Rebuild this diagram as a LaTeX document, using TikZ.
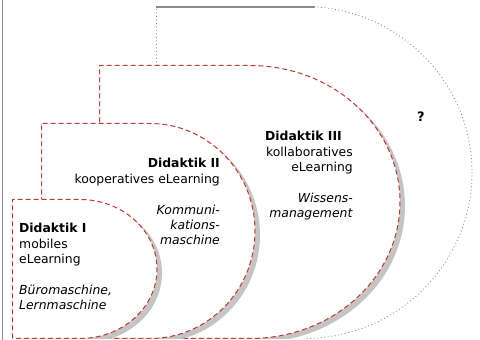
\documentclass[tikz,border=0pt]{standalone}
\usepackage{fontspec}
\setmainfont{DejaVu Sans}
\usetikzlibrary{shadows}
\definecolor{cred}{HTML}{BE3A2E}
\definecolor{cshade}{HTML}{C4C4C4}
\definecolor{cgrey}{HTML}{8C8C8C}
\definecolor{cedge}{HTML}{9484B8}

\begin{document}
\begin{tikzpicture}[x=1pt,y=1pt,
  font=\fontsize{12.4}{15.4}\selectfont,
  rim/.style={draw=cred,dash pattern=on 5pt off 3pt,line width=1pt,fill=white,
    drop shadow={shadow xshift=5pt,shadow yshift=-4pt,fill=cshade,opacity=1,draw=none}},
  dots/.style={draw=cgrey,dash pattern=on 1pt off 2.5pt,line width=0.8pt},
  lbl/.style={inner sep=0pt}]
  \useasboundingbox (0,0) rectangle (480,340);
  % open question
  \draw[dots] (156.5,274) -- (156.5,333.5) -- (304,333.5)
    arc[start angle=90,end angle=-90,x radius=168,y radius=166];
  \draw[cgrey,line width=2pt] (156,333) -- (315,333);
  % Didaktik III
  \path[rim] (99.5,1.5) -- (99.5,274.5) -- (250,274.5)
    arc[start angle=90,end angle=-90,x radius=150,y radius=136.5] -- cycle;
  % Didaktik II
  \path[rim] (41.5,1.5) -- (41.5,216.5) -- (150,216.5)
    arc[start angle=90,end angle=-90,x radius=105,y radius=107.5] -- cycle;
  % Didaktik I
  \path[rim] (12.5,1.5) -- (12.5,140.5) -- (80,140.5)
    arc[start angle=90,end angle=-90,x radius=77,y radius=69.5] -- cycle;
  \fill[white] (0,0) rectangle (480,0.9);
  \draw[cedge,line width=1.5pt] (2.5,0) -- (2.5,340);

  \node[lbl,anchor=base west,align=left] (one) at (19,30)
    {\textbf{Didaktik I}\\mobiles\\eLearning\\[15.4pt]\textit{Büromaschine,}\\\textit{Lernmaschine}};
  \node[lbl,anchor=base east,align=right] (two) at (220,95)
    {\textbf{Didaktik II}\\kooperatives eLearning\\[15.4pt]\textit{Kommuni-}\\\textit{kations-}\\\textit{maschine}};
  \node[lbl,anchor=base east,align=right] (three) at (353,122)
    {\textbf{Didaktik III}\hspace*{11pt}\\kollaboratives\\eLearning\\[15.4pt]\textit{Wissens-}\\\textit{management}};
  \node[lbl,font=\fontsize{13}{15}\selectfont\bfseries] (open) at (421,223) {?};
\end{tikzpicture}
\end{document}
